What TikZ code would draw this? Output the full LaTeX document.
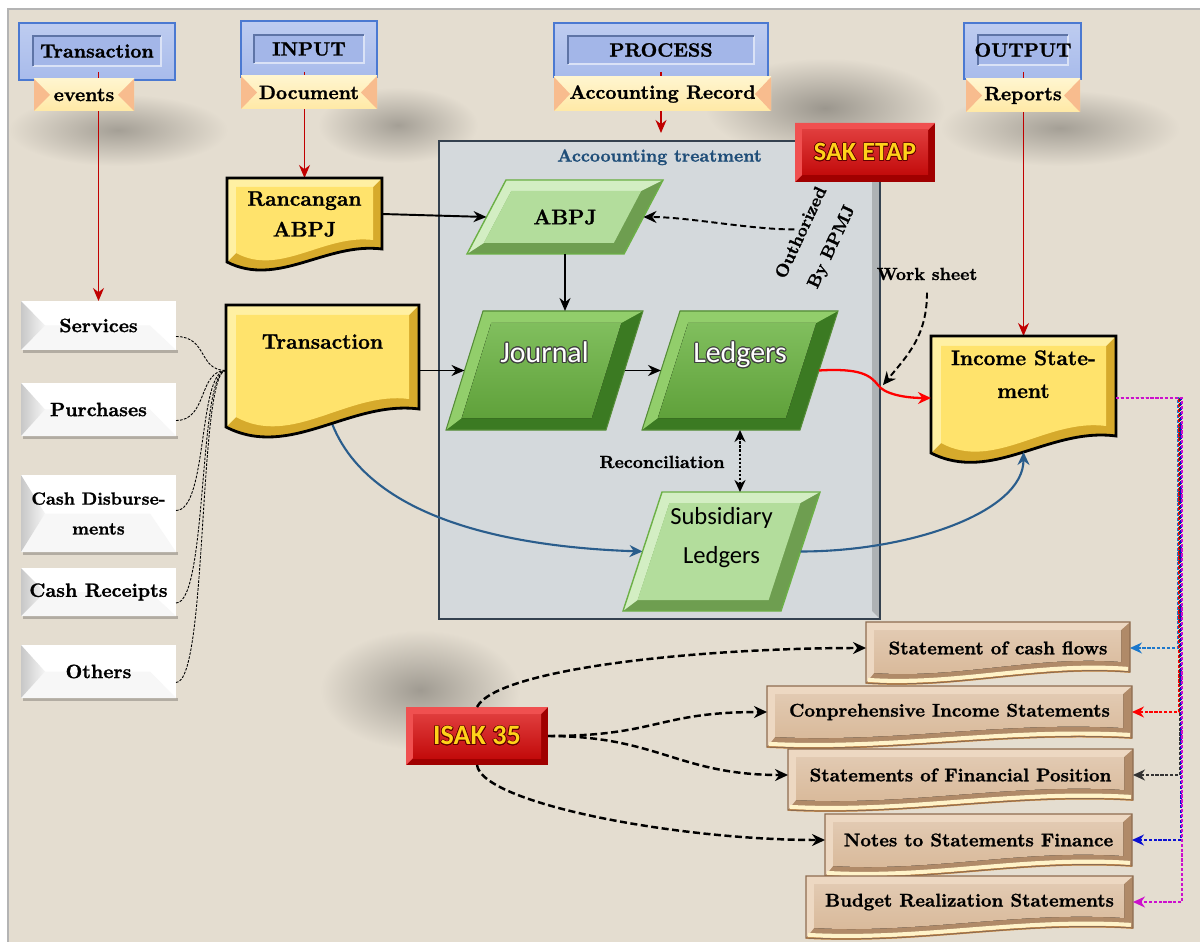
\documentclass[tikz,border=0pt]{standalone}
\usepackage{fontspec}
\setmainfont{Latin Modern Roman}[BoldFeatures={FakeBold=1.2}]
\newfontfamily\calibri{Carlito}
\usepackage[copies]{contour}
\usetikzlibrary{calc, arrows.meta, positioning}

\definecolor{paper}{HTML}{E4DDD0}
\definecolor{frame}{HTML}{B4B4B4}
\definecolor{hdrblue}{HTML}{A8BBEB}
\definecolor{hdrline}{HTML}{4B79D1}
\definecolor{hdrin}{HTML}{A3B6E8}
\definecolor{hdrinline}{HTML}{5E74A6}
\definecolor{ribtop}{HTML}{FFF5CF}
\definecolor{ribbot}{HTML}{FFE9A6}
\definecolor{ribend}{HTML}{F8BC8E}
\definecolor{arrred}{HTML}{C00000}
\definecolor{docface}{HTML}{FFE36C}
\definecolor{dochi}{HTML}{FFF0A3}
\definecolor{doclo}{HTML}{D6AA2C}
\definecolor{grnface}{HTML}{6AB341}
\definecolor{grnhi}{HTML}{92CE6B}
\definecolor{grnlo}{HTML}{3B7A22}
\definecolor{lgrnface}{HTML}{B3DD9C}
\definecolor{lgrnhi}{HTML}{D3EEC3}
\definecolor{lgrnlo}{HTML}{6E9E50}
\definecolor{grnline}{HTML}{6CB046}
\definecolor{tanface}{HTML}{D8B898}
\definecolor{tanhi}{HTML}{EDD8C2}
\definecolor{tanlo}{HTML}{B08A68}
\definecolor{tanline}{HTML}{8E6C50}
\definecolor{cream}{HTML}{FFF3C9}
\definecolor{band}{HTML}{E8A04E}
\definecolor{redface}{HTML}{D80C0C}
\definecolor{redhi}{HTML}{F05050}
\definecolor{redlo}{HTML}{A00000}
\definecolor{goldtxt}{HTML}{FFD21A}
\definecolor{treatfill}{HTML}{D4D9DC}
\definecolor{treatline}{HTML}{34414F}
\definecolor{treattxt}{HTML}{1F4E79}
\definecolor{flowblue}{HTML}{2A5D8C}
\definecolor{cfblue}{HTML}{1C78CC}
\definecolor{ntblue}{HTML}{0A10D0}
\definecolor{bgmag}{HTML}{CC10CC}

\pgfdeclarelayer{back}
\pgfsetlayers{back,main}

\def\px{0.02cm}
\contourlength{0.6pt}

\tikzset{
  shapebox/.style={rectangle, inner sep=0pt, outer sep=0pt},
  hdrtxt/.style={font=\fontsize{11}{12}\selectfont\bfseries, inner sep=0pt},
  doctxt/.style={font=\fontsize{12}{17.5}\selectfont\bfseries, inner sep=0pt, align=center},
  sidetxt/.style={shapebox, font=\fontsize{11}{15}\selectfont\bfseries, align=center},
  stmtxt/.style={shapebox, font=\fontsize{10.5}{12}\selectfont\bfseries},
  notetxt/.style={font=\fontsize{10}{12}\selectfont\bfseries, inner sep=0pt, align=center},
  gtxt/.style={font=\calibri\fontsize{17}{20}\selectfont, text=white, inner sep=0pt},
  redtxt/.style={shapebox, text=goldtxt},
  flow/.style={-{Stealth[length=2.6mm, width=2.2mm]}, line width=1.1pt},
  hdrarrow/.style={-{Stealth[length=2.6mm, width=2.2mm]}, arrred, line width=0.6pt},
  isakarrow/.style={-{Stealth[length=2.6mm, width=2.4mm]}, line width=1.4pt, dash pattern=on 4pt off 2pt},
  feed/.style={-{Stealth[length=2.4mm, width=2.2mm]}, line width=0.6pt, dash pattern=on 1.8pt off 1pt},
  tie/.style={line width=0.5pt, dash pattern=on 1.5pt off 0.8pt},
}

\begin{document}
\begin{tikzpicture}[x=\px, y=-\px]
\useasboundingbox (0,0) rectangle (1200,942);

\begin{pgfonlayer}{back}
  \fill[white] (0,0) rectangle (1200,942);
  \fill[paper] (8,9) rectangle (1200,942);
  % soft shadows
  \begin{scope}
    \clip (8,9) rectangle (1200,942);
    \shade[inner color=black!28!paper, outer color=paper] (118,130) ellipse (110 and 36);
    \shade[inner color=black!28!paper, outer color=paper] (398,125) ellipse (80 and 38);
    \shade[inner color=black!32!paper, outer color=paper] (825,108) ellipse (120 and 50);
    \shade[inner color=black!28!paper, outer color=paper] (1060,128) ellipse (120 and 38);
    \shade[inner color=black!30!paper, outer color=paper] (420,690) ellipse (100 and 60);
  \end{scope}
  \draw[frame, line width=1pt] (8,942) -- (8,9) -- (1200,9);

  % accounting treatment panel
  \fill[treatfill] (439,141) rectangle (880,619);
  \fill[black!18!treatfill] (872,149) -- (880,141) -- (880,619) -- (872,611) -- cycle;
  \draw[treatline, line width=0.8pt] (439,141) rectangle (880,619);

  % blue header boxes
  \foreach \xa/\xb/\ya/\yb/\ia/\ib/\ja/\jb in {19/175/23/80/33/161/36/66, 241/377/21/77/254/364/35/63, 554/768/23/77/568/754/36/64, 964/1081/23/79/978/1068/35/65} {
    \fill[top color=hdrblue!75!white, bottom color=hdrblue] (\xa,\ya) rectangle (\xb,\yb);
    \draw[hdrline, line width=1pt] (\xa,\ya) rectangle (\xb,\yb);
    \fill[hdrin] (\ia,\ja) rectangle (\ib,\jb);
    \draw[white!60!hdrin, line width=0.8pt] (\ia,\jb) -- (\ib,\jb) -- (\ib,\ja);
    \draw[hdrinline, line width=0.8pt] (\ia,\jb) -- (\ia,\ja) -- (\ib,\ja);
  }
\end{pgfonlayer}

% ribbons
\foreach \xa/\xb/\ya/\yb in {34/134/79/111, 241/377/76/109, 554/771/77/111, 966/1080/79/112} {
  \fill[top color=ribtop, bottom color=ribbot] (\xa,\ya) rectangle (\xb,\yb);
  \fill[ribend] (\xa,\ya) -- (\xa+16,{(\ya+\yb)/2}) -- (\xa,\yb) -- cycle;
  \fill[ribend] (\xb,\ya) -- (\xb-16,{(\ya+\yb)/2}) -- (\xb,\yb) -- cycle;
}

% white side buttons
\foreach \ya/\yb in {301/350, 383/436, 475/552, 568/616, 645/698} {
  \fill[black!22!paper] (23,\yb) rectangle (178,\yb+3);
  \fill[white] (21,\ya) rectangle (176,\yb);
  \fill[black!3] (21,\yb) -- (45,{(\ya+\yb)/2}) -- (150,{(\ya+\yb)/2}) -- (176,\yb) -- cycle;
  \shade[left color=black!22, right color=black!4] (21,\ya) -- (45,{(\ya+\yb)/2}) -- (21,\yb) -- cycle;
}

% documents
\fill[doclo] (227,178) -- (382,178) -- (382,249) .. controls (326,242) and (278,288) .. (227,262) -- cycle;
\fill[dochi] (227,178) -- (382,178) -- (373,187) -- (236,187) -- (236,253) -- (227,262) -- cycle;
\fill[docface] (236,187) -- (373,187) -- (373,240) .. controls (324,234) and (280,277) .. (236,253) -- cycle;
\draw[line width=1.6pt] (227,178) -- (382,178) -- (382,249) .. controls (326,242) and (278,288) .. (227,262) -- cycle;

\fill[doclo] (226,305) -- (419,305) -- (419,409) .. controls (350,400) and (290,460) .. (226,427) -- cycle;
\fill[dochi] (226,305) -- (419,305) -- (409,315) -- (236,315) -- (236,417) -- (226,427) -- cycle;
\fill[docface] (236,315) -- (409,315) -- (409,399) .. controls (348,391) and (292,448) .. (236,417) -- cycle;
\draw[line width=1.6pt] (226,305) -- (419,305) -- (419,409) .. controls (350,400) and (290,460) .. (226,427) -- cycle;

\fill[doclo] (931,336) -- (1116,336) -- (1116,436) .. controls (1049,427) and (992,484) .. (931,453) -- cycle;
\fill[dochi] (931,336) -- (1116,336) -- (1106,346) -- (941,346) -- (941,443) -- (931,453) -- cycle;
\fill[docface] (941,346) -- (1106,346) -- (1106,426) .. controls (1047,418) and (994,472) .. (941,443) -- cycle;
\draw[line width=1.6pt] (931,336) -- (1116,336) -- (1116,436) .. controls (1049,427) and (992,484) .. (931,453) -- cycle;

% green parallelograms
\foreach \tl/\ty/\by/\w/\dx in {483/311/430/160/37, 680/311/430/158/38} {
  \pgfmathsetmacro\slope{\dx/(\by-\ty)}
  \fill[grnlo] (\tl,\ty) -- (\tl+\w,\ty) -- (\tl+\w-\dx,\by) -- (\tl-\dx,\by) -- cycle;
  \fill[grnhi] (\tl,\ty) -- (\tl+\w,\ty) -- (\tl+\w-18-12*\slope,\ty+12) -- (\tl+12-12*\slope,\ty+12) -- (\tl+12-\dx+12*\slope,\by-12) -- (\tl-\dx,\by) -- cycle;
  \fill[top color=grnface!85!white, bottom color=grnface!90!black] (\tl+12-12*\slope,\ty+12) -- (\tl+\w-18-12*\slope,\ty+12) -- (\tl+\w-18-\dx+12*\slope,\by-12) -- (\tl+12-\dx+12*\slope,\by-12) -- cycle;
  \draw[grnline!80!black, line width=0.6pt] (\tl,\ty) -- (\tl+\w,\ty) -- (\tl+\w-\dx,\by) -- (\tl-\dx,\by) -- cycle;
}
\foreach \tl/\ty/\by/\w/\dx in {506/180/254/157/39, 662/492/611/158/39} {
  \pgfmathsetmacro\slope{\dx/(\by-\ty)}
  \fill[lgrnlo] (\tl,\ty) -- (\tl+\w,\ty) -- (\tl+\w-\dx,\by) -- (\tl-\dx,\by) -- cycle;
  \fill[lgrnhi] (\tl,\ty) -- (\tl+\w,\ty) -- (\tl+\w-16-11*\slope,\ty+11) -- (\tl+11-11*\slope,\ty+11) -- (\tl+11-\dx+11*\slope,\by-11) -- (\tl-\dx,\by) -- cycle;
  \fill[lgrnface] (\tl+11-11*\slope,\ty+11) -- (\tl+\w-16-11*\slope,\ty+11) -- (\tl+\w-16-\dx+11*\slope,\by-11) -- (\tl+11-\dx+11*\slope,\by-11) -- cycle;
  \draw[grnline, line width=0.8pt] (\tl,\ty) -- (\tl+\w,\ty) -- (\tl+\w-\dx,\by) -- (\tl-\dx,\by) -- cycle;
}

% statement boxes
\foreach \xa/\xb/\ya/\bl/\br in {866/1130/622/683/672, 767/1132/686/747/738, 788/1133/749/810/800, 825/1132/814/876/866, 806/1133/876/938/928} {
  \pgfmathsetmacro\w{\xb-\xa}
  \fill[tanlo] (\xa,\ya) -- (\xb,\ya) -- (\xb,\br) .. controls (\xa+0.65*\w,\br-7) and (\xa+0.35*\w,\bl+6) .. (\xa,\bl) -- cycle;
  \fill[tanhi] (\xa,\ya) -- (\xb,\ya) -- (\xb-9,\ya+8) -- (\xa+8,\ya+8) -- (\xa+8,\bl-10) -- (\xa,\bl) -- cycle;
  \fill[top color=tanface!75!white, bottom color=tanface] (\xa+8,\ya+8) -- (\xb-9,\ya+8) -- (\xb-9,\br-10) .. controls (\xa+0.65*\w,\br-17) and (\xa+0.35*\w,\bl-4) .. (\xa+8,\bl-10) -- cycle;
  \draw[cream, line width=2.4pt] (\xb-2,\br-3) .. controls (\xa+0.65*\w,\br-10) and (\xa+0.35*\w,\bl+3) .. (\xa+2,\bl-3);
  \draw[band, line width=1pt] (\xb,\br) .. controls (\xa+0.65*\w,\br-7) and (\xa+0.35*\w,\bl+6) .. (\xa,\bl);
  \draw[tanline, line width=0.7pt] (\xa,\ya) -- (\xb,\ya) -- (\xb,\br) .. controls (\xa+0.65*\w,\br-7) and (\xa+0.35*\w,\bl+6) .. (\xa,\bl) -- cycle;
}

% red standard boxes
\foreach \xa/\xb/\ya/\yb in {795/935/123/182, 406/548/707/765} {
  \fill[redlo] (\xa,\ya) rectangle (\xb,\yb);
  \fill[redhi] (\xa,\ya) -- (\xb,\ya) -- (\xb-7,\ya+7) -- (\xa+7,\ya+7) -- (\xa+7,\yb-7) -- (\xa,\yb) -- cycle;
  \fill[top color=redface!80!white, bottom color=redface!90!black] (\xa+7,\ya+7) rectangle (\xb-7,\yb-7);
}

% header texts
\node[hdrtxt] (hdtrans) at (97,51) {Transaction};
\node[hdrtxt] (hdinput) at (309,49) {INPUT};
\node[hdrtxt] (hdprocess) at (661,50) {PROCESS};
\node[hdrtxt] (hdoutput) at (1023,50) {OUTPUT};
\node[hdrtxt] (ribevents) at (84,95) {events};
\node[hdrtxt] (ribdoc) at (309,92.5) {Document};
\node[hdrtxt] (ribrecord) at (662.5,94) {Accounting Record};
\node[hdrtxt] (ribreports) at (1023,95.5) {Reports};
\coordinate (evtfoot) at (98.5,72);
\coordinate (inpfoot) at (304.5,72);
\coordinate (profoot) at (661,72);
\coordinate (outfoot) at (1023.5,72);

% side buttons
\node[sidetxt, minimum width=155*\px, minimum height=49*\px] (services) at (98.5,325.5) {Services};
\node[sidetxt, minimum width=155*\px, minimum height=53*\px] (purchases) at (98.5,409.5) {Purchases};
\node[sidetxt, minimum width=155*\px, minimum height=77*\px, font=\fontsize{10}{17}\selectfont\bfseries] (cashdisb) at (98.5,513.5) {Cash Disburse-\\ments};
\node[sidetxt, minimum width=155*\px, minimum height=48*\px] (cashrec) at (98.5,592) {Cash Receipts};
\node[sidetxt, minimum width=155*\px, minimum height=53*\px] (others) at (98.5,671.5) {Others};

% documents
\node[shapebox, doctxt, minimum width=155*\px, minimum height=72*\px] (rancangan) at (304.5,214) {Rancangan\\ABPJ};
\node[shapebox, minimum width=193*\px, minimum height=131*\px] (transaction) at (322.5,370.5) {};
\node[doctxt, below=0.58cm of transaction.north] (transtxt) {Transaction};
\node[shapebox, minimum width=185*\px, minimum height=124*\px] (income) at (1023.5,398) {};
\node[doctxt, font=\fontsize{12}{18.7}\selectfont\bfseries, below=0.28cm of income.north] (inctxt) {Income State-\\ment};

% treatment panel
\node[shapebox, minimum width=441*\px, minimum height=478*\px] (treat) at (659.5,380) {};
\node[notetxt, text=treattxt, below=0.16cm of treat.north] (treattitle) {Accoounting treatment};
\node[shapebox, minimum width=157*\px, minimum height=74*\px, font=\fontsize{12}{14}\selectfont\bfseries] (abpj) at (565,217) {ABPJ};
\node[shapebox, minimum width=160*\px, minimum height=119*\px] (journal) at (544.5,370.5) {};
\node[shapebox, minimum width=158*\px, minimum height=119*\px] (ledgers) at (740,370.5) {};
\node[shapebox, minimum width=158*\px, minimum height=119*\px] (subsid) at (721.5,551.5) {};
\node[gtxt] (journaltxt) at ([yshift=0.35cm]journal.center) {\contour{black!75}{Journal}};
\node[gtxt] (ledgerstxt) at ([yshift=0.3cm]ledgers.center) {\contour{black!75}{Ledgers}};
\node[font=\calibri\fontsize{14}{22}\selectfont, align=center, inner sep=0pt] (subsidtxt) at ([yshift=0.28cm]subsid.center) {Subsidiary\\Ledgers};
\node[notetxt] (recon) at (662,462) {Reconciliation};

% standards
\node[redtxt, minimum width=140*\px, minimum height=59*\px, font=\calibri\fontsize{15}{18}\selectfont\bfseries] (sak) at (865,152.5) {\contourlength{0.4pt}\contour{redlo!60!black}{SAK ETAP}};
\node[redtxt, minimum width=142*\px, minimum height=58*\px, font=\calibri\fontsize{16}{18}\selectfont\bfseries] (isak) at (477,736) {\contourlength{0.4pt}\contour{redlo!60!black}{ISAK 35}};
\node[notetxt, font=\fontsize{10}{19}\selectfont\bfseries, rotate=65] (auth) at (817,240) {Outhorized\\By BPMJ};
\node[notetxt] (worksheet) at (927,274) {Work sheet};
\coordinate (wsend) at (883,385);

% reports
\node[stmtxt, minimum width=264*\px, minimum height=52*\px] (cashflow) at (998,648) {Statement of cash flows};
\node[stmtxt, minimum width=365*\px, minimum height=52*\px] (compinc) at (949.5,712) {Conprehensive Income Statements};
\node[stmtxt, minimum width=345*\px, minimum height=52*\px] (finpos) at (960.5,775) {Statements of Financial Position};
\node[stmtxt, minimum width=307*\px, minimum height=52*\px] (notes) at (978.5,840) {Notes to Statements Finance};
\node[stmtxt, minimum width=327*\px, minimum height=52*\px] (budget) at (969.5,902) {Budget Realization Statements};

% connectors
\foreach \nm/\dy in {services/11, purchases/11, cashdisb/-3, cashrec/11, others/11}
  \draw[tie] ($(\nm.east)+(0,\dy)$) .. controls +(32,0) and +(-28,0) .. (transaction.west);

\draw[flow] (rancangan.east) -- (abpj.west);
\draw[flow] (abpj.south) -- (abpj.south |- journal.north);
\draw[flow] (transaction.east) -- (journal.west);
\draw[flow] (journal.east) -- (ledgers.west);
\draw[{Stealth[length=2.4mm, width=2.2mm]}-{Stealth[length=2.4mm, width=2.2mm]}, line width=1.3pt, densely dotted] (ledgers.south) -- (ledgers.south |- subsid.north);
\draw[-{Stealth[length=2.6mm, width=2.4mm]}, red, line width=1.3pt] (ledgers.east) .. controls (860,368) and (870,375) .. (878,385) .. controls (884,394) and (905,398) .. (income.west);
\draw[-{Stealth[length=2.6mm, width=2.4mm]}, flowblue, line width=1.2pt] (subsid.east) .. controls +(110,0) and +(0,60) .. ([yshift=0.16cm]income.south);
\draw[-{Stealth[length=2.6mm, width=2.4mm]}, line width=1.1pt, dash pattern=on 3.5pt off 2pt] (auth.north) .. controls +(-45,0) and +(45,0) .. (abpj.east);
\draw[-{Stealth[length=2.6mm, width=2.4mm]}, line width=1.1pt, dash pattern=on 3.5pt off 2pt, shorten <=2.4mm] (worksheet.south) .. controls +(0,55) and +(25,-30) .. (wsend);

\draw[isakarrow] (isak.north) .. controls +(20,-38) and +(-170,0) .. (cashflow.west);
\draw[isakarrow] (isak.east) .. controls +(110,0) and +(-110,0) .. (compinc.west);
\draw[isakarrow] (isak.east) .. controls +(110,0) and +(-110,0) .. (finpos.west);
\draw[isakarrow] (isak.south) .. controls +(5,38) and +(-150,0) .. (notes.west);

\draw[feed, cfblue] (income.east) -- ++(62,0) |- (cashflow.east);
\draw[feed, red] (income.east) -- ++(63,0) |- (compinc.east);
\draw[feed, black!80] (income.east) -- ++(64,0) |- (finpos.east);
\draw[feed, ntblue] (income.east) -- ++(65,0) |- (notes.east);
\draw[feed, bgmag] (income.east) -- ++(66,0) |- (budget.east);

\begin{pgfonlayer}{back}
  \draw[hdrarrow] (evtfoot) -- (services.north);
  \draw[hdrarrow] (inpfoot) -- (rancangan.north);
  \draw[hdrarrow, shorten >=1.6mm] (profoot) -- (profoot |- treat.north);
  \draw[hdrarrow] (outfoot) -- (income.north);
  \draw[-{Stealth[length=2.6mm, width=2.4mm]}, flowblue, line width=1.2pt] (transaction.center) .. controls +(0,140) and +(-150,-5) .. (subsid.west);
\end{pgfonlayer}
\end{tikzpicture}
\end{document}
